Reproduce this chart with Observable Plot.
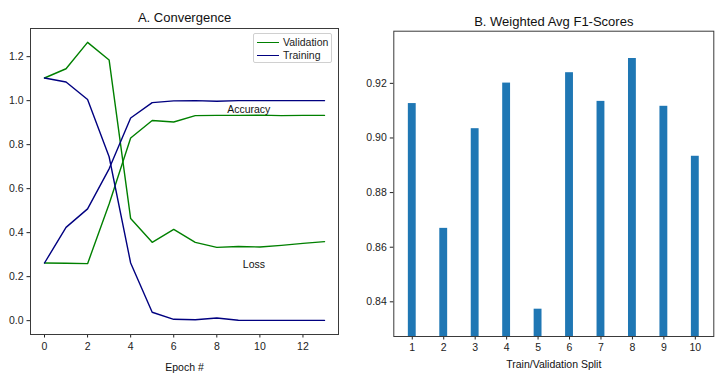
<!DOCTYPE html>
<html>
<head>
<meta charset="utf-8">
<script src="https://cdn.jsdelivr.net/npm/d3@7"></script>
<script src="https://cdn.jsdelivr.net/npm/@observablehq/plot@0.6"></script>
<style>
  html, body { margin: 0; padding: 0; background: #fff; }
  #wrap { position: relative; width: 721px; height: 378px; font-family: "Liberation Sans", Arial, sans-serif; }
  #left, #right { position: absolute; top: 0; }
  #left { left: 0; }
  #right { left: 360px; }
  #legend { position: absolute; left: 253px; top: 33px; width: 77px; height: 28px; border: 1px solid #d0d0d0; border-radius: 2px; background: #fff; font-size: 10.5px; color: #222; }
  .row { position: absolute; left: 0; height: 12px; line-height: 12px; }
  .sw { position: absolute; left: 3px; top: 6px; width: 22px; height: 0; border-top: 1.4px solid; }
  .lbl { position: absolute; left: 29px; top: 0; white-space: nowrap; }
</style>
</head>
<body>
<div id="wrap">
  <div id="left"></div>
  <div id="right"></div>
  <div id="legend">
    <div class="row" style="top:2px"><div class="sw" style="border-color:green"></div><div class="lbl">Validation</div></div>
    <div class="row" style="top:15px"><div class="sw" style="border-color:navy"></div><div class="lbl">Training</div></div>
  </div>
</div>
<script>
// ---- Panel A data ----
const epochs = [0,1,2,3,4,5,6,7,8,9,10,11,12,13];
const valAcc    = [0.262, 0.261, 0.259, 0.53, 0.830, 0.910, 0.903, 0.932, 0.933, 0.933, 0.934, 0.932, 0.933, 0.933];
const valLoss   = [1.103, 1.145, 1.265, 1.185, 0.464, 0.356, 0.415, 0.356, 0.333, 0.337, 0.335, 0.342, 0.351, 0.359];
const trainAcc  = [0.262, 0.424, 0.508, 0.69, 0.921, 0.991, 0.999, 1.0, 0.997, 1.0, 1.0, 1.0, 1.0, 1.0];
const trainLoss = [1.103, 1.085, 1.005, 0.745, 0.262, 0.038, 0.006, 0.004, 0.012, 0.002, 0.001, 0.001, 0.001, 0.001];
const xTicksA = [0,2,4,6,8,10,12];
const yTicksA = [0.0,0.2,0.4,0.6,0.8,1.0,1.2];
const annoText = ["Accuracy", "Loss"];
const annoX = [8.48, 9.21];
const annoY = [0.960, 0.255];

// ---- Panel B data ----
const splits = [1,2,3,4,5,6,7,8,9,10];
const f1 = [0.9126, 0.8669, 0.9034, 0.9201, 0.8373, 0.9239, 0.9134, 0.9291, 0.9116, 0.8933];
const yTicksB = [0.84,0.86,0.88,0.90,0.92];

const FONT = '"Liberation Sans", Arial, sans-serif';
const GREEN = "green", NAVY = "navy", BAR = "#1f77b4", FRAME = "#3a3a3a";

const seriesDefs = [
  {key: "valAcc", vals: valAcc, color: GREEN},
  {key: "valLoss", vals: valLoss, color: GREEN},
  {key: "trainAcc", vals: trainAcc, color: NAVY},
  {key: "trainLoss", vals: trainLoss, color: NAVY}
];
const rows = seriesDefs.flatMap(s => epochs.map((e, i) => ({epoch: e, value: s.vals[i], series: s.key, color: s.color})));
const annos = annoText.map((t, i) => ({t, x: annoX[i], y: annoY[i]}));

const plotA = Plot.plot({
  width: 360, height: 378,
  marginLeft: 30, marginRight: 22, marginTop: 28, marginBottom: 44,
  style: {fontFamily: FONT, fontSize: "10.5px", color: "#222", background: "transparent"},
  x: {domain: [-0.65, 13.65], ticks: xTicksA, tickSize: 3.5, tickPadding: 5, tickFormat: d3.format("d"), label: null},
  y: {domain: [-0.063, 1.328], ticks: yTicksA, tickSize: 3.5, tickPadding: 3.5, tickFormat: d3.format(".1f"), label: null},
  marks: [
    Plot.line(rows, {x: "epoch", y: "value", z: "series", stroke: d => d.color, strokeWidth: 1.4}),
    Plot.text(annos, {x: "x", y: "y", text: "t", textAnchor: "start", fontSize: 10.5, fill: "#111"}),
    Plot.frame({stroke: FRAME, strokeWidth: 1}),
    Plot.text(["A. Convergence"], {frameAnchor: "top", dy: -16, fontSize: 13, fill: "#111"}),
    Plot.text(["Epoch #"], {frameAnchor: "bottom", dy: 36, fontSize: 10.5, fill: "#111"})
  ]
});
document.getElementById("left").appendChild(plotA);

const bars = splits.map((s, i) => ({s, v: f1[i]}));
const barW = 0.25;
const plotB = Plot.plot({
  width: 361, height: 378,
  marginLeft: 33.3, marginRight: 7.7, marginTop: 30.7, marginBottom: 42,
  style: {fontFamily: FONT, fontSize: "10.5px", color: "#222", background: "transparent"},
  x: {domain: [0.4125, 10.5875], ticks: splits, tickSize: 3.5, tickPadding: 4, tickFormat: d3.format("d"), label: null},
  y: {domain: [d3.min(f1) - 0.01, d3.max(f1) + 0.01], ticks: yTicksB, tickSize: 3.5, tickPadding: 3.5, tickFormat: d3.format(".2f"), label: null},
  marks: [
    Plot.rect(bars, {x1: d => d.s - barW / 2, x2: d => d.s + barW / 2, y1: 0, y2: "v", fill: BAR, clip: true}),
    Plot.frame({stroke: FRAME, strokeWidth: 1}),
    Plot.text(["B. Weighted Avg F1-Scores"], {frameAnchor: "top", dy: -14, fontSize: 13, fill: "#111"}),
    Plot.text(["Train/Validation Split"], {frameAnchor: "bottom", dy: 31, fontSize: 10.5, fill: "#111"})
  ]
});
document.getElementById("right").appendChild(plotB);
</script>
</body>
</html>
